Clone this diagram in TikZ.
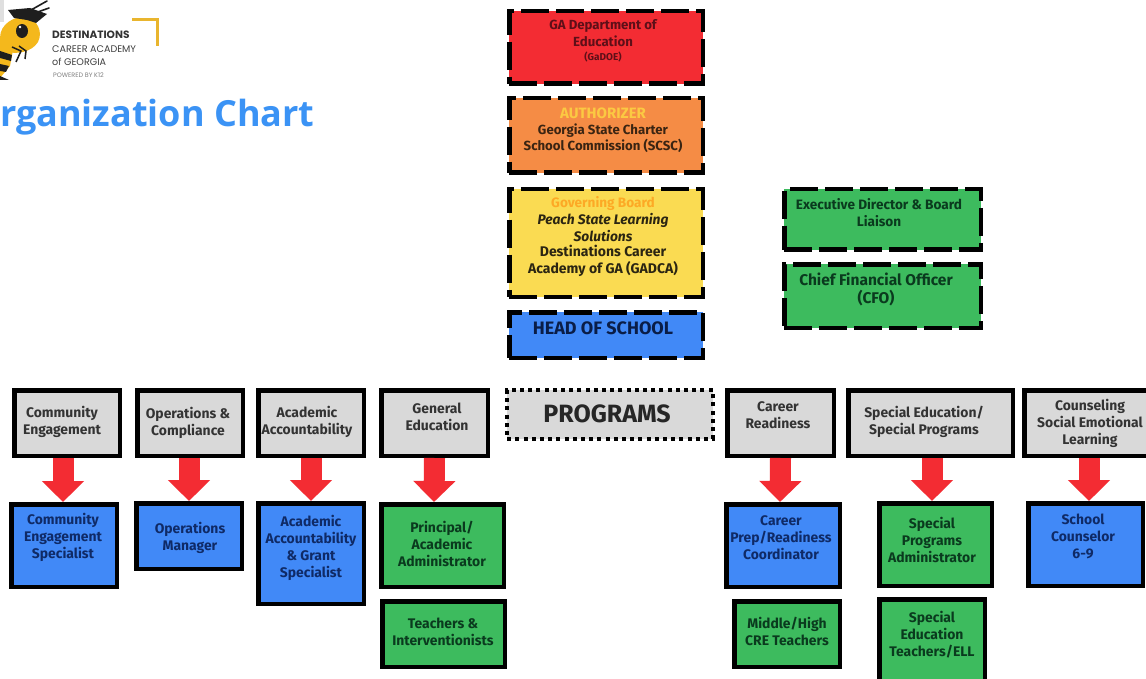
\documentclass[tikz,border=0pt]{standalone}
\usepackage{fontspec}
\setmainfont{Fira Sans}
\newfontfamily\logofont{Poppins}
\newfontfamily\titlefont{Open Sans}
\usetikzlibrary{arrows.meta}
\definecolor{cred}{HTML}{F32C33}
\definecolor{corange}{HTML}{F58C45}
\definecolor{cyellow}{HTML}{FADB52}
\definecolor{cblue}{HTML}{4189F7}
\definecolor{cgreen}{HTML}{3DBB5E}
\definecolor{cgray}{HTML}{D9D9D9}
\definecolor{tred}{HTML}{5E0F18}
\definecolor{torange}{HTML}{3A2412}
\definecolor{tyellow}{HTML}{2B2512}
\definecolor{tblue}{HTML}{0F2A66}
\definecolor{tgreen}{HTML}{0A3A1E}
\definecolor{tgray}{HTML}{333333}
\definecolor{gold}{HTML}{E9B52E}
\definecolor{titleblue}{HTML}{3B93F5}
\definecolor{beeyellow}{HTML}{F4B81C}
\definecolor{beeblack}{HTML}{1E1E1E}
\newcommand{\bx}[6]{\node[#6,minimum width={(#3-#1)-4.5},minimum height={(#4-#2)-4.5}] (#5) at ({(#1+#3)/2},{(#2+#4)/2}) {};}
\tikzset{
  plainbox/.style={draw=black,line width=4.5pt,inner sep=0pt,outer sep=2.25pt,rectangle},
  dashbox/.style={plainbox,dash pattern=on 28pt off 7pt},
  dotbox/.style={plainbox,line width=4pt,dash pattern=on 4pt off 4.2pt},
  lab/.style={align=center,inner sep=0pt,font=\fontsize{13.9}{17}\selectfont\bfseries},
  toplab/.style={align=center,inner sep=0pt,font=\fontsize{13.2}{17}\selectfont\bfseries},
  blockarrow/.style={draw=cred,line width=21pt,-{Triangle[width=41pt,length=21pt,fill=cred]}},
}
\begin{document}
\begin{tikzpicture}[x=1pt,y=-1pt]
\useasboundingbox (0,0) rectangle (1146,679);
\clip (0,0) rectangle (1146,679);
\fill[white] (0,0) rectangle (1146,679);

% logo: bee
\fill[gray!25] (0,0) rectangle (4,22);
\draw[beeblack,line width=1.6pt,line cap=round] (31,10) -- (47,1);
\draw[beeblack,line width=1.6pt,line cap=round] (35,13) -- (49,8);
\fill[beeyellow] (0,38) .. controls (0,24) and (14,16) .. (26,17) .. controls (38,20) and (43,32) .. (38,42) .. controls (32,52) and (16,56) .. (0,50) -- cycle;
\fill[beeblack] (8,10) -- (30,8) -- (47,14) -- (36,23) -- (27,20) -- (14,18) -- cycle;
\fill[beeblack] (22,31) ellipse (6 and 7);
\fill[white] (20,27) circle (1.3);
\fill[beeyellow] (0,48) -- (13,50) -- (10,66) -- (0,78) -- cycle;
\fill[beeblack] (0,51) -- (12,55) -- (11,61) -- (0,58) -- cycle;
\fill[beeblack] (0,64) -- (9,66) -- (6,72) -- (0,71) -- cycle;
\fill[beeblack] (0,76) -- (9,80) -- (0,80) -- cycle;
\draw[beeblack,line width=1.5pt] (12,47) -- (21,51) -- (16,62);
\draw[beeblack,line width=1.5pt] (19,46) -- (26,51) -- (25,59);

\node[anchor=base west,inner sep=0pt,font=\logofont\fontsize{10.6}{12}\selectfont\bfseries,text=black!80] (lg1) at (52,39) {DESTINATIONS};
\node[anchor=base west,inner sep=0pt,font=\logofont\fontsize{9.6}{12}\selectfont,text=black!75] (lg2) at (52,53) {CAREER ACADEMY};
\node[anchor=base west,inner sep=0pt,font=\logofont\fontsize{9.6}{12}\selectfont,text=black!75] (lg3) at (52,66) {of GEORGIA};
\node[anchor=base west,inner sep=0pt,font=\logofont\fontsize{6.4}{8}\selectfont,text=black!50] (lg4) at (53,78) {POWERED BY K12};
\draw[gold,line width=3pt] (132,20) -- (157,20) -- (157,46);

\node[anchor=base west,inner sep=0pt,font=\titlefont\fontsize{36}{40}\selectfont\bfseries,text=titleblue] (title) at (0,127) {rganization Chart};

% top column
\bx{507}{9}{705}{86}{red}{dashbox,fill=cred}
\bx{507}{96}{705}{175}{orange}{dashbox,fill=corange}
\bx{507}{187}{705}{299}{yel}{dashbox,fill=cyellow}
\bx{507}{310}{705}{360}{head}{dashbox,fill=cblue}
\bx{782}{187}{983}{252}{exec}{dashbox,fill=cgreen}
\bx{782}{262}{983}{330}{cfo}{dashbox,fill=cgreen}

\node[toplab,text=tred] (redt) at (603,33.5) {GA Department of\\Education};
\node[toplab,text=tred,font=\fontsize{10}{11}\selectfont\bfseries] (redt2) at (603,57) {(GaDOE)};
\node[toplab,text=torange,font=\fontsize{13.2}{16.5}\selectfont\bfseries] (ort) at (603,138) {Georgia State Charter\\School Commission (SCSC)};
\node[toplab,text=cyellow!80!orange,font=\fontsize{15}{17}\selectfont\bfseries] (ort2) at (603,113) {AUTHORIZER};
\node[toplab,text=orange!55!cyellow,font=\fontsize{13.6}{17}\selectfont\bfseries] (yet1) at (603,203) {Governing Board};
\node[toplab,text=tyellow,font=\fontsize{13.8}{17}\selectfont\bfseries\itshape] (yet2) at (603,227.5) {Peach State Learning\\Solutions};
\node[toplab,text=tyellow,font=\fontsize{14}{17}\selectfont\bfseries] (yet3) at (603,261) {Destinations Career\\Academy of GA (GADCA)};
\node[toplab,text=tblue!70!black,font=\fontsize{18}{20}\selectfont\bfseries] (headt) at (603,328) {HEAD OF SCHOOL};
\node[toplab,text=tgreen,font=\fontsize{13.6}{17}\selectfont\bfseries] (exect) at (879,212.5) {Executive Director \& Board\\Liaison};
\node[toplab,text=tgreen,font=\fontsize{15.5}{18}\selectfont\bfseries] (cfot) at (876,289) {Chief Financial Officer\\(CFO)};

% programs row
\bx{12}{388}{122}{458}{g1}{plainbox,fill=cgray}
\bx{135}{388}{245}{458}{g2}{plainbox,fill=cgray}
\bx{256}{388}{366}{458}{g3}{plainbox,fill=cgray}
\bx{379}{388}{490}{458}{g4}{plainbox,fill=cgray}
\bx{505}{388}{715}{441}{prog}{dotbox,fill=cgray}
\bx{725}{388}{836}{458}{g5}{plainbox,fill=cgray}
\bx{846}{388}{1015}{458}{g6}{plainbox,fill=cgray}
\bx{1022}{388}{1150}{458}{g7}{plainbox,fill=cgray}

\node[lab,text=tgray] (g1t) at (62,421.5) {Community\\Engagement};
\node[lab,text=tgray] (g2t) at (188,422.5) {Operations \&\\Compliance};
\node[lab,text=tgray] (g3t) at (307,421.5) {Academic\\Accountability};
\node[lab,text=tgray] (g4t) at (437,416.5) {General\\Education};
\node[lab,text=black!85,font=\fontsize{25}{28}\selectfont\bfseries] (progt) at (607,414) {PROGRAMS};
\node[lab,text=tgray] (g5t) at (778,415.5) {Career\\Readiness};
\node[lab,text=tgray] (g6t) at (924,421.5) {Special Education/\\Special Programs};
\node[lab,text=tgray] (g7t) at (1090,423) {Counseling\\Social Emotional\\Learning};

% staff boxes
\bx{9}{502}{119}{589}{b1}{plainbox,fill=cblue}
\bx{134}{501}{244}{571}{b2}{plainbox,fill=cblue}
\bx{256}{501}{366}{606}{b3}{plainbox,fill=cblue}
\bx{379}{502}{506}{589}{b4}{plainbox,fill=cgreen}
\bx{380}{599}{507}{669}{b4b}{plainbox,fill=cgreen}
\bx{724}{502}{842}{589}{b5}{plainbox,fill=cblue}
\bx{732}{599}{842}{669}{b5b}{plainbox,fill=cgreen}
\bx{877}{501}{994}{588}{b6}{plainbox,fill=cgreen}
\bx{877}{597}{987}{690}{b6b}{plainbox,fill=cgreen}
\bx{1026}{501}{1145}{588}{b7}{plainbox,fill=cblue}

\node[lab,text=tblue] (b1t) at (63,537) {Community\\Engagement\\Specialist};
\node[lab,text=tblue] (b2t) at (190,537.5) {Operations\\Manager};
\node[lab,text=tblue] (b3t) at (311,548) {Academic\\Accountability\\\& Grant\\Specialist};
\node[lab,text=tgreen] (b4t) at (442,544) {Principal/\\Academic\\Administrator};
\node[lab,text=tgreen] (b4bt) at (443,631.5) {Teachers \&\\Interventionists};
\node[lab,text=tblue] (b5t) at (781,538) {Career\\Prep/Readiness\\Coordinator};
\node[lab,text=tgreen] (b5bt) at (787,631.5) {Middle/High\\CRE Teachers};
\node[lab,text=tgreen] (b6t) at (932,539.5) {Special\\Programs\\Administrator};
\node[lab,text=tgreen] (b6bt) at (932,634.5) {Special\\Education\\Teachers/ELL};
\node[lab,text=tblue] (b7t) at (1083,536.5) {School\\Counselor\\6-9};

% block arrows
\draw[blockarrow] ([xshift=-4pt]g1.south) -- ([xshift=-1pt]b1.north);
\draw[blockarrow] ([xshift=-1pt]g2.south) -- (b2.north);
\draw[blockarrow] (g3.south) -- (b3.north);
\draw[blockarrow] (g4.south) -- ([xshift=-8.5pt]b4.north);
\draw[blockarrow] (g5.south) -- ([xshift=-3pt]b5.north);
\draw[blockarrow] ([xshift=1.5pt]g6.south) -- ([xshift=-3.5pt]b6.north);
\draw[blockarrow] ([xshift=3pt]g7.south) -- ([xshift=3.5pt]b7.north);
\end{tikzpicture}
\end{document}
